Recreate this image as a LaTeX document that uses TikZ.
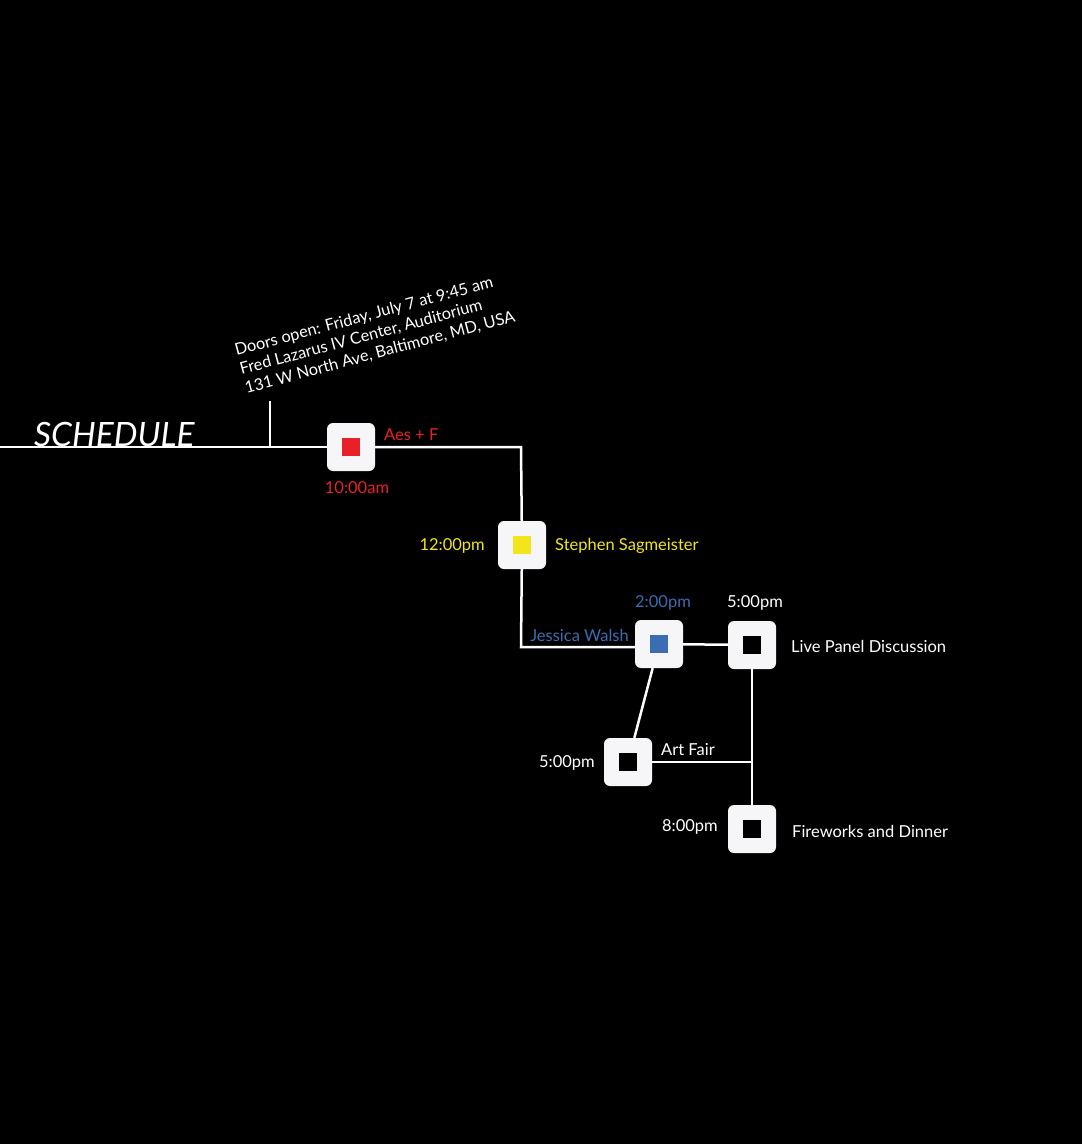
\documentclass[tikz,border=0pt]{standalone}
\usepackage{fontspec}
\setmainfont{Lato}
\usetikzlibrary{positioning}
\definecolor{rouge}{HTML}{E8202A}
\definecolor{jaune}{HTML}{F2E51C}
\definecolor{bleu}{HTML}{3B6DB2}
\definecolor{carre}{HTML}{F6F6F8}
\newcommand{\aescol}{rouge}
\newcommand{\sagcol}{jaune}
\newcommand{\walcol}{bleu}

\begin{document}
\begin{tikzpicture}[x=1pt, y=-1pt,
    trait/.style={draw=white, line width=2.5pt},
    boite/.style={fill=carre, rounded corners=6pt, minimum size=48pt, inner sep=0pt},
    puce/.style={minimum size=18pt, inner sep=0pt},
    lbl/.style={font=\fontsize{16.5}{19}\selectfont, inner sep=0pt, text=white}]

    \fill[black] (0,0) rectangle (1082,1144);
    \useasboundingbox (0,0) rectangle (1082,1144);

    \node[font=\itshape\fontsize{33.5}{36}\selectfont, text=white, anchor=base west, inner sep=0pt] (titre) at (34,446) {SCHEDULE};
    \node[font=\fontsize{16.3}{19.5}\selectfont, text=white, align=left, rotate=15, inner sep=0pt] (portes) at (375,334)
        {Doors open: Friday, July 7 at 9:45 am\\Fred Lazarus IV Center, Auditorium\\131 W North Ave, Baltimore, MD, USA};

    % les cases
    \node[boite] (aesf) at (351,447) {};
    \node[puce, fill=\aescol] (aesf-in) at (aesf) {};
    \node[boite] (sagm) at (522,545) {};
    \node[puce, fill=\sagcol] (sagm-in) at (sagm) {};
    \node[boite] (walsh) at (659,644) {};
    \node[puce, fill=\walcol] (walsh-in) at (walsh) {};
    \node[boite] (panel) at (752,645) {};
    \node[puce, fill=black] (panel-in) at (panel) {};
    \node[boite] (fair) at (628,762) {};
    \node[puce, fill=black] (fair-in) at (fair) {};
    \node[boite] (fire) at (752,829) {};
    \node[puce, fill=black] (fire-in) at (fire) {};

    % les textes
    \node[lbl, text=\aescol, anchor=west] (aesf-nom) at (384,435) {Aes + F};
    \node[lbl, text=\aescol] (aesf-h) at (357,488) {10:00am};
    \node[lbl, text=\sagcol, anchor=east] (sagm-h) at (485,546) {12:00pm};
    \node[lbl, text=\sagcol, anchor=west] (sagm-nom) at (555,546) {Stephen Sagmeister};
    \node[lbl, text=\walcol] (walsh-h) at (663,603) {2:00pm};
    \node[lbl, text=\walcol, anchor=east] (walsh-nom) at (629,635) {Jessica Walsh};
    \node[lbl] (panel-h) at (755,603) {5:00pm};
    \node[lbl, anchor=west] (panel-nom) at (791,646) {Live Panel Discussion};
    \node[lbl, anchor=west] (fair-nom) at (661,750) {Art Fair};
    \node[lbl, anchor=east] (fair-h) at (595,763) {5:00pm};
    \node[lbl, anchor=east] (fire-h) at (718,827) {8:00pm};
    \node[lbl, anchor=west] (fire-nom) at (792,831) {Fireworks and Dinner};

    \coordinate (debut) at (0,447);
    \coordinate (coin1) at (521,447);
    \coordinate (coin2) at (521,647);
    \coordinate (tige) at (270,401);
    \coordinate (jonction) at (752,762);

    \draw[trait] (debut) -- (aesf);
    \draw[trait] (tige) -- (tige |- debut);
    \draw[trait] (aesf) -- (coin1) -- (sagm);
    \draw[trait] (sagm) -- (coin2) -- (walsh.west |- coin2);
    \draw[trait] (walsh) -- (panel);
    \draw[trait] (walsh) -- (fair);
    \draw[trait] (panel) -- (fire);
    \draw[trait] (fair) -- (jonction);

\end{tikzpicture}
\end{document}
